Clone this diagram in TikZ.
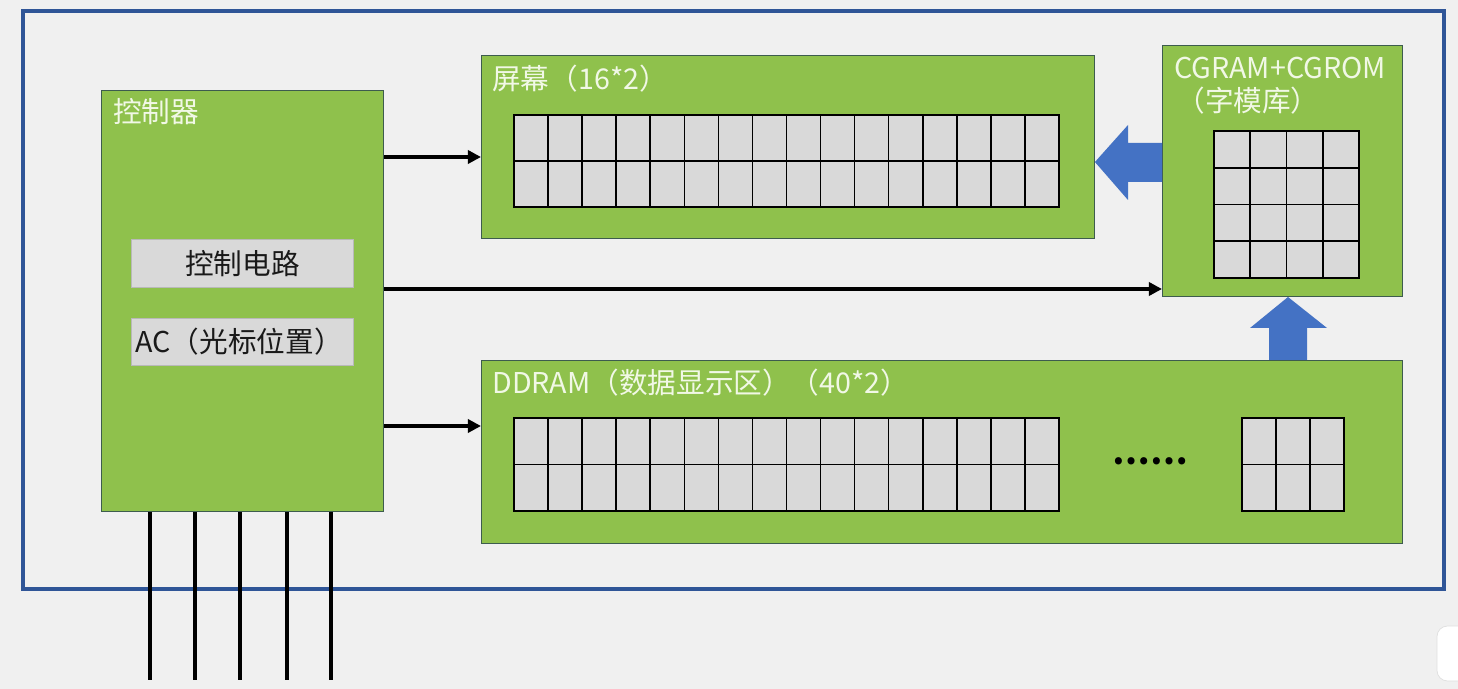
\documentclass[tikz,border=0pt]{standalone}
\usepackage{fontspec}
\setmainfont{Noto Sans CJK SC}
\usetikzlibrary{arrows.meta}
\definecolor{bgcol}{HTML}{F0F0F0}
\definecolor{framecol}{HTML}{2F5597}
\definecolor{greencol}{HTML}{8FC14C}
\definecolor{greenline}{HTML}{3D5C4E}
\definecolor{cellcol}{HTML}{D9D9D9}
\definecolor{arrcol}{HTML}{4472C4}
\definecolor{lblcol}{HTML}{F1F8E6}
\tikzset{
    block/.style={draw=greenline, line width=0.6pt, fill=greencol, anchor=north west, inner sep=0pt},
    greybox/.style={draw=gray!55, line width=0.5pt, fill=cellcol, anchor=north west, text=black!90,
        font=\fontsize{16.3}{18}\selectfont},
    lbl/.style={anchor=west, inner sep=0pt, text=lblcol, font=\fontsize{16.3}{18}\selectfont},
    cell/.style={draw=black, line width=0.9pt, fill=cellcol},
    conn/.style={line width=2pt, -{Triangle[length=7.5pt,width=7.5pt]}},
    bigarrow/.style={fill=arrcol},
    pin/.style={line width=2.2pt}
}
% one cell grid: x0, y0, columns, rows, cell width, cell height
\newcommand{\cellgrid}[6]{%
    \foreach \i in {1,...,#3}
        \foreach \j in {1,...,#4}
            \draw[cell] ({#1+(\i-1)*#5},{#2+(\j-1)*#6}) rectangle ++(#5,#6);
}
\begin{document}
\begin{tikzpicture}[x=0.02cm, y=-0.02cm]
    \fill[bgcol] (0,0) rectangle (1458,689);
    \useasboundingbox (0,0) rectangle (1458,689);
    \filldraw[fill=white, draw=gray!25, rounded corners=6pt] (1437,626) rectangle (1480,681);
    % outer frame
    \draw[framecol, line width=2pt] (23,11) rectangle (1444,589);

    % controller
    \node[block, minimum width=5.64cm, minimum height=8.42cm] (ctrl) at (101,90) {};
    \node[lbl] (ctrllbl) at (113,112) {控制器};
    \node[greybox, minimum width=4.44cm, minimum height=0.96cm, inner sep=0pt] (circ) at (131,239) {控制电路};
    \node[greybox, text width=4.28cm, minimum height=0.94cm, inner xsep=0.08cm, inner ysep=0pt,
        align=left] (ac) at (131,318) {AC（光标位置）};

    % screen
    \node[block, minimum width=12.26cm, minimum height=3.66cm] (scr) at (481,55) {};
    \node[lbl] (scrlbl) at (492,79) {屏幕（16*2）};
    \cellgrid{514}{115}{16}{2}{34.0625}{46}

    % character generator
    \node[block, minimum width=4.8cm, minimum height=5.02cm] (cg) at (1162,45) {};
    \node[lbl] (cglbl) at (1174,68) {CGRAM+CGROM};
    \node[lbl] (cglbl2) at (1176,101) {（字模库）};
    \cellgrid{1214}{131}{4}{4}{36.25}{36.75}

    % data RAM
    \node[block, minimum width=18.42cm, minimum height=3.66cm] (dd) at (481,360) {};
    \node[lbl] (ddlbl) at (492,383) {DDRAM（数据显示区）（40*2）};
    \cellgrid{514}{418}{16}{2}{34.0625}{46.5}
    \cellgrid{1242}{418}{3}{2}{34}{46.5}
    \node[inner sep=0pt, font=\bfseries\fontsize{19}{20}\selectfont] (dots) at (1150,461) {……};

    % connectors
    \draw[conn] (ctrl.east |- 0,157) -- (scr.west |- 0,157);
    \draw[conn] (ctrl.east |- 0,289) -- (cg.west |- 0,289);
    \draw[conn] (ctrl.east |- 0,426) -- (dd.west |- 0,426);
    \fill[bigarrow] (cg.west |- 0,143) -- (1128,143) -- (1128,125) -- (scr.east |- 0,162)
        -- (1128,200) -- (1128,182) -- (cg.west |- 0,182) -- cycle;
    \fill[bigarrow] (dd.north -| 1269,0) -- (1269,328) -- (1250,328) -- (cg.south -| 1288,0)
        -- (1327,328) -- (1307,328) -- (dd.north -| 1307,0) -- cycle;

    % pins
    \foreach \x in {150,195,240,287,331}
        \draw[pin] (ctrl.south -| \x,0) -- (\x,680);
\end{tikzpicture}
\end{document}
